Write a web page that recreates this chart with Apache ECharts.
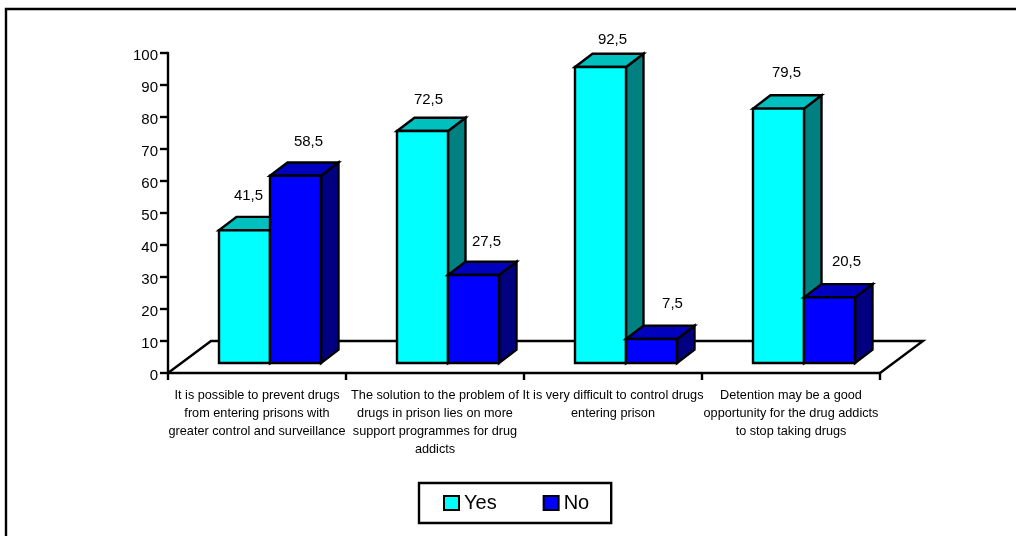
<!DOCTYPE html>
<html>
<head>
<meta charset="utf-8">
<style>html,body{margin:0;padding:0;background:#fff}#chart{width:1016px;height:536px}</style>
<script src="https://cdn.jsdelivr.net/npm/echarts@6/dist/echarts.min.js"></script>
</head>
<body>
<div id="chart"></div>
<script>
// Survey answers per statement, in percent.
const categories = [
  'It is possible to prevent drugs\nfrom entering prisons with\ngreater control and surveillance',
  'The solution to the problem of\ndrugs in prison lies on more\nsupport programmes for drug\naddicts',
  'It is very difficult to control drugs\nentering prison',
  'Detention may be a good\nopportunity for the drug addicts\nto stop taking drugs'
];
const yesValues = [41.5, 72.5, 92.5, 79.5];
const noValues = [58.5, 27.5, 7.5, 20.5];

// Hand-placed value labels, relative to the centre of each bar's top front edge.
const yesLabelOffsets = [[4, -34], [6, -31], [12, -27], [8, -36]];
const noLabelOffsets = [[13, -34], [13, -33], [21, -35], [17, -36]];

const FONT = '"Liberation Sans", Arial, sans-serif';
const INK = '#000';
const STROKE = 2.4;
const BAR_W = 51;          // front face width
const BAR_DX = 17.5;       // bar depth, projected
const BAR_DY = -13.3;
const FLOOR_DX = 43;       // floor depth, projected
const FLOOR_DY = -32;
const INSET_DX = 13;       // bars stand slightly behind the front floor edge
const INSET_DY = -10;

const palette = {
  Yes: { front: '#00ffff', top: '#00bfbf', side: '#008080' },
  No: { front: '#0000ff', top: '#0000bf', side: '#000080' }
};

function poly(points, fill) {
  return {
    type: 'polygon',
    shape: { points },
    style: { fill, stroke: INK, lineWidth: STROKE, lineJoin: 'miter' }
  };
}

// Draws one bar as a front face, a top and a right side, plus its value label.
function barRenderer(name, side, offsets) {
  const colors = palette[name];
  return function (params, api) {
    const i = api.value(0);
    const v = api.value(1);
    const base = api.coord([i, 0]);
    const head = api.coord([i, v]);
    const x0 = base[0] + INSET_DX + (side === 0 ? -BAR_W : 0);
    const x1 = x0 + BAR_W;
    const yb = base[1] + INSET_DY;
    const yt = head[1] + INSET_DY;
    const off = offsets[i];
    return {
      type: 'group',
      children: [
        poly([[x1, yb], [x1 + BAR_DX, yb + BAR_DY], [x1 + BAR_DX, yt + BAR_DY], [x1, yt]], colors.side),
        poly([[x0, yt], [x0 + BAR_DX, yt + BAR_DY], [x1 + BAR_DX, yt + BAR_DY], [x1, yt]], colors.top),
        poly([[x0, yb], [x1, yb], [x1, yt], [x0, yt]], colors.front),
        {
          type: 'text',
          style: {
            x: (x0 + x1) / 2 + off[0],
            y: yt + off[1],
            text: String(v).replace('.', ','),
            align: 'center',
            verticalAlign: 'middle',
            fontFamily: FONT,
            fontSize: 15,
            fill: INK
          }
        }
      ]
    };
  };
}

// Floor outline: back and side edges; the front edge is the category axis.
function floorRenderer(params, api) {
  const band = api.size([1, 0])[0];
  const first = api.coord([0, 0]);
  const last = api.coord([categories.length - 1, 0]);
  const a = [first[0] - band / 2, first[1]];
  const b = [last[0] + band / 2, last[1]];
  return {
    type: 'polyline',
    shape: {
      points: [a, [a[0] + FLOOR_DX, a[1] + FLOOR_DY], [b[0] + FLOOR_DX, b[1] + FLOOR_DY], b]
    },
    style: { fill: null, stroke: INK, lineWidth: STROKE }
  };
}

const chart = echarts.init(document.getElementById('chart'), null, { renderer: 'canvas' });
chart.setOption({
  animation: false,
  backgroundColor: '#fff',
  textStyle: { fontFamily: FONT, color: INK },
  graphic: [{
    type: 'polyline',
    silent: true,
    shape: { points: [[6, 536], [6, 9], [1016, 9]] },
    style: { fill: null, stroke: INK, lineWidth: STROKE }
  }],
  grid: { left: 168, right: 136, top: 53, bottom: 163 },
  xAxis: {
    type: 'category',
    data: categories,
    boundaryGap: true,
    axisLine: { show: true, lineStyle: { color: INK, width: STROKE } },
    axisTick: { show: true, alignWithLabel: false, interval: 0, length: 7, lineStyle: { color: INK, width: STROKE } },
    axisLabel: {
      interval: 0,
      margin: 13,
      fontFamily: FONT,
      fontSize: 12.7,
      lineHeight: 18,
      color: INK,
      align: 'center',
      verticalAlign: 'top'
    }
  },
  yAxis: {
    type: 'value',
    min: 0,
    max: 100,
    interval: 10,
    splitLine: { show: false },
    axisLine: { show: true, lineStyle: { color: INK, width: STROKE } },
    axisTick: { show: true, length: 8, lineStyle: { color: INK, width: STROKE } },
    axisLabel: { margin: 10, verticalAlign: 'top', lineHeight: 6, fontFamily: FONT, fontSize: 15, color: INK }
  },
  legend: {
    data: ['Yes', 'No'],
    left: 419,
    top: 483,
    orient: 'horizontal',
    padding: [10, 22, 10, 24],
    itemGap: 46,
    itemWidth: 15,
    itemHeight: 14,
    icon: 'rect',
    borderColor: INK,
    borderWidth: STROKE,
    selectedMode: false,
    itemStyle: { borderColor: INK, borderWidth: 2 },
    textStyle: { fontFamily: FONT, fontSize: 20, color: INK, padding: [0, 0, 0, 0] }
  },
  series: [
    {
      name: 'Floor',
      type: 'custom',
      renderItem: floorRenderer,
      data: [[0, 0]],
      silent: true,
      z: 1
    },
    {
      name: 'Yes',
      type: 'custom',
      renderItem: barRenderer('Yes', 0, yesLabelOffsets),
      data: yesValues.map((v, i) => [i, v]),
      encode: { x: 0, y: 1 },
      itemStyle: { color: palette.Yes.front },
      z: 2
    },
    {
      name: 'No',
      type: 'custom',
      renderItem: barRenderer('No', 1, noLabelOffsets),
      data: noValues.map((v, i) => [i, v]),
      encode: { x: 0, y: 1 },
      itemStyle: { color: palette.No.front },
      z: 3
    }
  ]
});
</script>
</body>
</html>
